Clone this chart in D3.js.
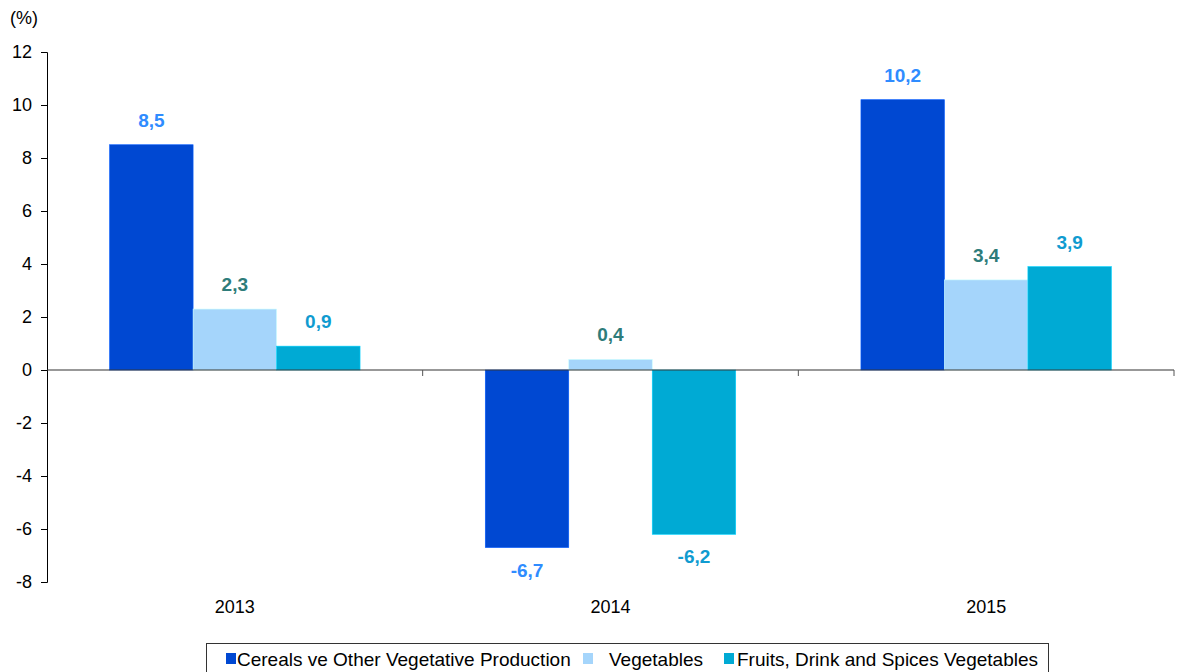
<!DOCTYPE html>
<html>
<head>
<meta charset="utf-8">
<script src="https://cdn.jsdelivr.net/npm/d3@7"></script>
<style>
  body { margin: 0; background: #fff; }
  svg { font-family: "Liberation Sans", Arial, sans-serif; }
</style>
</head>
<body>
<svg id="chart" width="1178" height="672"></svg>
<script>
// data
var years = ["2013", "2014", "2015"];
var seriesNames = ["Cereals ve Other Vegetative Production", "Vegetables", "Fruits, Drink and Spices Vegetables"];
var cereals = [8.5, -6.7, 10.2];
var vegetables = [2.3, 0.4, 3.4];
var fruits = [0.9, -6.2, 3.9];
var yTicks = [-8, -6, -4, -2, 0, 2, 4, 6, 8, 10, 12];

var barColors = ["#0048d2", "#a5d5fb", "#00aad4"],
    labelColors = ["#2f8cff", "#2e7c7a", "#109bd0"];

var svg = d3.select("#chart"),
    margin = {left: 47, right: 4, top: 52, bottom: 90},
    width = 1178 - margin.left - margin.right,
    height = 672 - margin.top - margin.bottom;

var g = svg.append("g").attr("transform", "translate(" + margin.left + "," + margin.top + ")");

var x0 = d3.scaleBand().domain(years).range([0, width]).padding(0),
    x1 = d3.scaleBand().domain(d3.range(3)).range([0, x0.bandwidth()]).paddingInner(0).paddingOuter(0.75),
    y = d3.scaleLinear().domain([-8, 12]).range([height, 0]);

var fmt = function(d) { return d3.format(".1f")(d).replace(".", ",").replace("\u2212", "-"); };

var rows = years.map(function(yr, i) {
  return {year: yr, values: [cereals[i], vegetables[i], fruits[i]]};
});

// y axis
var yAxis = g.append("g")
  .call(d3.axisLeft(y).tickValues(yTicks).tickSize(6).tickPadding(9)
    .tickFormat(function(d) { return String(d); }));
yAxis.select(".domain").attr("stroke", "#000");
yAxis.selectAll("text").style("font-size", "18px").attr("fill", "#000");

svg.append("text").attr("x", 10).attr("y", 24)
  .style("font-size", "18px").text("(%)");

// bars
var grp = g.selectAll(".year").data(rows).enter().append("g")
  .attr("class", "year")
  .attr("transform", function(d) { return "translate(" + x0(d.year) + ",0)"; });

grp.selectAll("rect").data(function(d) { return d.values; }).enter().append("rect")
  .attr("x", function(d, i) { return x1(i); })
  .attr("y", function(d) { return y(Math.max(0, d)); })
  .attr("width", x1.bandwidth())
  .attr("height", function(d) { return Math.abs(y(d) - y(0)); })
  .attr("fill", function(d, i) { return barColors[i]; })
  .attr("stroke", function(d, i) { return d3.color(barColors[i]).brighter(0.6); })
  .attr("stroke-width", 0.6);

grp.selectAll(".lbl").data(function(d) { return d.values; }).enter().append("text")
  .attr("class", "lbl")
  .attr("x", function(d, i) { return x1(i) + x1.bandwidth() / 2; })
  .attr("y", function(d) { return d >= 0 ? y(d) - 18 : y(d) + 29; })
  .attr("text-anchor", "middle")
  .style("font-size", "19px").style("font-weight", "bold")
  .attr("fill", function(d, i) { return labelColors[i]; })
  .text(fmt);

// x axis at zero
var xAxis = g.append("g").attr("transform", "translate(0," + y(0) + ")");
xAxis.append("line").attr("x1", 0).attr("x2", width).attr("stroke", "#333").attr("stroke-width", 1.2);
xAxis.selectAll(".tk").data(years.slice(1).concat(["end"])).enter().append("line")
  .attr("x1", function(d) { return d === "end" ? width : x0(d); })
  .attr("x2", function(d) { return d === "end" ? width : x0(d); })
  .attr("y1", 0).attr("y2", 6).attr("stroke", "#555");

g.selectAll(".yr").data(years).enter().append("text")
  .attr("x", function(d) { return x0(d) + x0.bandwidth() / 2; })
  .attr("y", height + 31)
  .attr("text-anchor", "middle").style("font-size", "18px")
  .text(function(d) { return d; });

// legend
var lg = svg.append("g");
lg.append("rect").attr("x", 206.5).attr("y", 643.5).attr("width", 842).attr("height", 40)
  .attr("fill", "#fff").attr("stroke", "#333");
var lx = [226, 583, 724];
var tx = [237, 609, 737];
seriesNames.forEach(function(n, i) {
  lg.append("rect").attr("x", lx[i]).attr("y", 653).attr("width", 10).attr("height", 11).attr("fill", barColors[i]);
  lg.append("text").attr("x", tx[i]).attr("y", 666)
    .style("font-size", "19px").text(n);
});
</script>
</body>
</html>
